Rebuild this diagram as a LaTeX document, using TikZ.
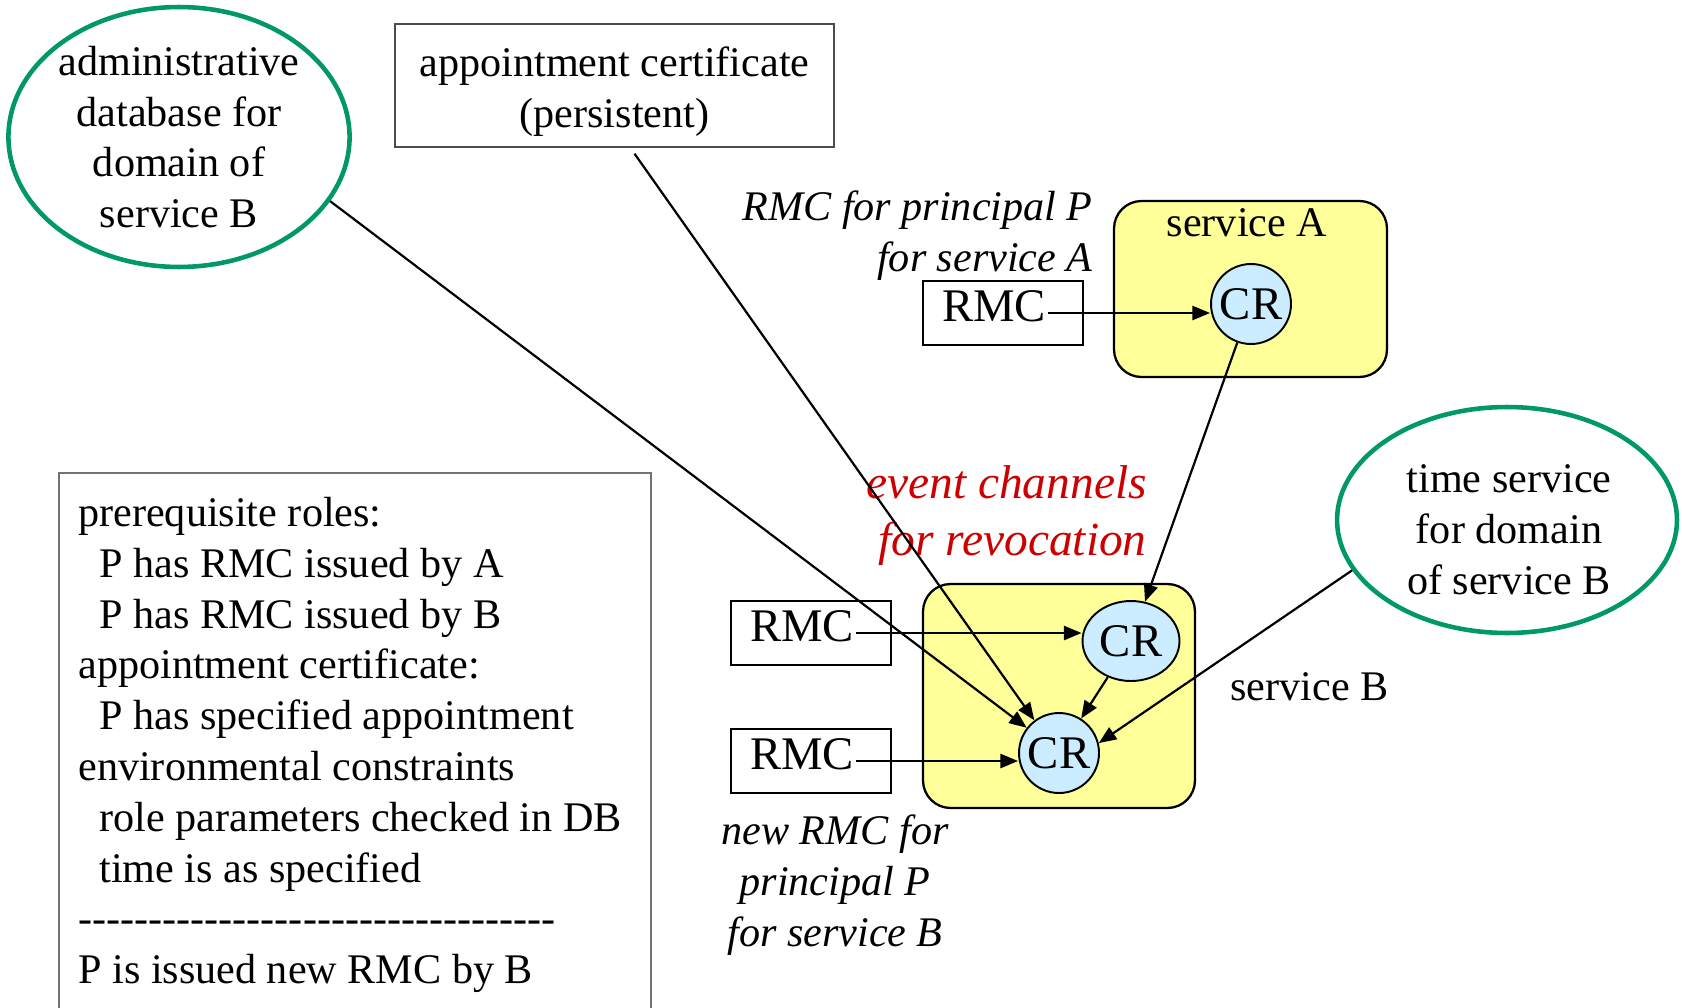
\documentclass[tikz,border=0pt]{standalone}
\usepackage{fontspec}
\setmainfont{Liberation Serif}
\usetikzlibrary{arrows.meta,shapes.geometric,calc}
\definecolor{boxyellow}{HTML}{FFFF99}
\definecolor{crblue}{HTML}{CCECFF}
\definecolor{dbgreen}{HTML}{009966}
\definecolor{chred}{HTML}{CC0000}
\newcommand{\dashline}{\foreach \n in {1,...,34}{\mbox{-}}}
\newcommand{\ind}{\hspace*{12pt}}

\begin{document}
\begin{tikzpicture}[x=0.02cm,y=-0.02cm,
	txt/.style={inner sep=0pt,font=\fontsize{24}{28.9}\selectfont},
	itxt/.style={inner sep=0pt,font=\fontsize{24}{28.9}\selectfont\itshape},
	redtxt/.style={inner sep=0pt,text=chred,font=\fontsize{27}{32.4}\selectfont\itshape},
	domainell/.style={ellipse,draw=dbgreen,line width=2.6pt,inner sep=0pt,align=center,font=\fontsize{24}{28.9}\selectfont},
	certbox/.style={draw=black!70,line width=0.8pt},
	svcbox/.style={draw,line width=1.3pt,fill=boxyellow,rounded corners=0.55cm},
	crnode/.style={draw,line width=1.1pt,fill=crblue,inner sep=0pt,font=\fontsize{26.6}{32}\selectfont},
	rmcbox/.style={draw,line width=1.3pt,minimum width=3.2cm,minimum height=1.28cm},
	rmctext/.style={inner sep=1pt,font=\fontsize{26.6}{32}\selectfont},
	conn/.style={line width=1.25pt,-{Triangle[length=10pt,width=8pt]}},
	condbox/.style={draw=black!55,line width=1pt}]
\useasboundingbox (0,0) rectangle (1682,1007);
% sources
\node[domainell,minimum width=6.8cm,minimum height=5.2cm] (admin) at (179,137) {administrative\\database for\\domain of\\service B};
\node[certbox,minimum width=8.78cm,minimum height=2.46cm] (cert) at (614.5,85.5) {};
\node[txt,align=center] (certlbl) at (614.5,92) {appointment certificate\\(persistent)};
\node[domainell,minimum width=6.8cm,minimum height=4.52cm] (time) at (1507,520) {};
\node[txt,align=center] (timelbl) at (1509,530) {time service\\for domain\\of service B};
% service A
\node[svcbox,minimum width=5.46cm,minimum height=3.52cm] (svcA) at (1250.5,289) {};
\node[txt] (svcAlbl) at (1247,223) {service A};
\node[crnode,circle,minimum size=1.6cm] (crA) at (1251,304) {CR};
\node[rmcbox] (rmcA) at (1003,313) {};
\node[rmctext,anchor=east] (rmcAt) at (1048,306) {RMC};
\node[itxt,align=right,anchor=east] (rmcAlbl) at (1093,236) {RMC for principal P\\for service A};
% service B
\node[svcbox,minimum width=5.44cm,minimum height=4.48cm] (svcB) at (1059,696) {};
\node[crnode,ellipse,minimum width=1.94cm,minimum height=1.6cm] (crB1) at (1131,641) {CR};
\node[crnode,circle,minimum size=1.6cm] (crB2) at (1059,753) {CR};
\node[rmcbox] (rmcB1) at (811,633) {};
\node[rmctext,anchor=east] (rmcB1t) at (856,626) {RMC};
\node[rmcbox] (rmcB2) at (811,761) {};
\node[rmctext,anchor=east] (rmcB2t) at (856,754) {RMC};
\node[txt,anchor=west] (svcBlbl) at (1230,687) {service B};
\node[itxt,align=center] (newlbl) at (835,885) {new RMC for\\principal P\\for service B};
\node[redtxt,align=right,anchor=east] (evlbl) at (1147,516) {event channels\\for revocation};
% conditions
\node[txt,align=left,anchor=north west] (cond) at (78,497) {prerequisite roles:\\\ind P has RMC issued by A\\\ind P has RMC issued by B\\appointment certificate:\\\ind P has specified appointment\\environmental constraints\\\ind role parameters checked in DB\\\ind time is as specified\\\dashline\\P is issued new RMC by B};
\draw[condbox] (59,473) rectangle (651,1020);
% arrows
\draw[conn] (rmcA.center -| rmcAt.east) -- (rmcA.center -| crA.west);
\draw[conn] (crA) -- (crB1);
\draw[conn] (rmcB1.center -| rmcB1t.east) -- (rmcB1.center -| crB1.west);
\draw[conn] (rmcB2.center -| rmcB2t.east) -- (rmcB2.center -| crB2.west);
\draw[conn] (crB1) -- (crB2);
\draw[conn] (admin.-23) -- (crB2.142);
\draw[conn] ($(cert.south)+(20,6)$) -- (crB2.127);
\draw[conn] (time.198) -- (crB2.14);
\end{tikzpicture}
\end{document}
